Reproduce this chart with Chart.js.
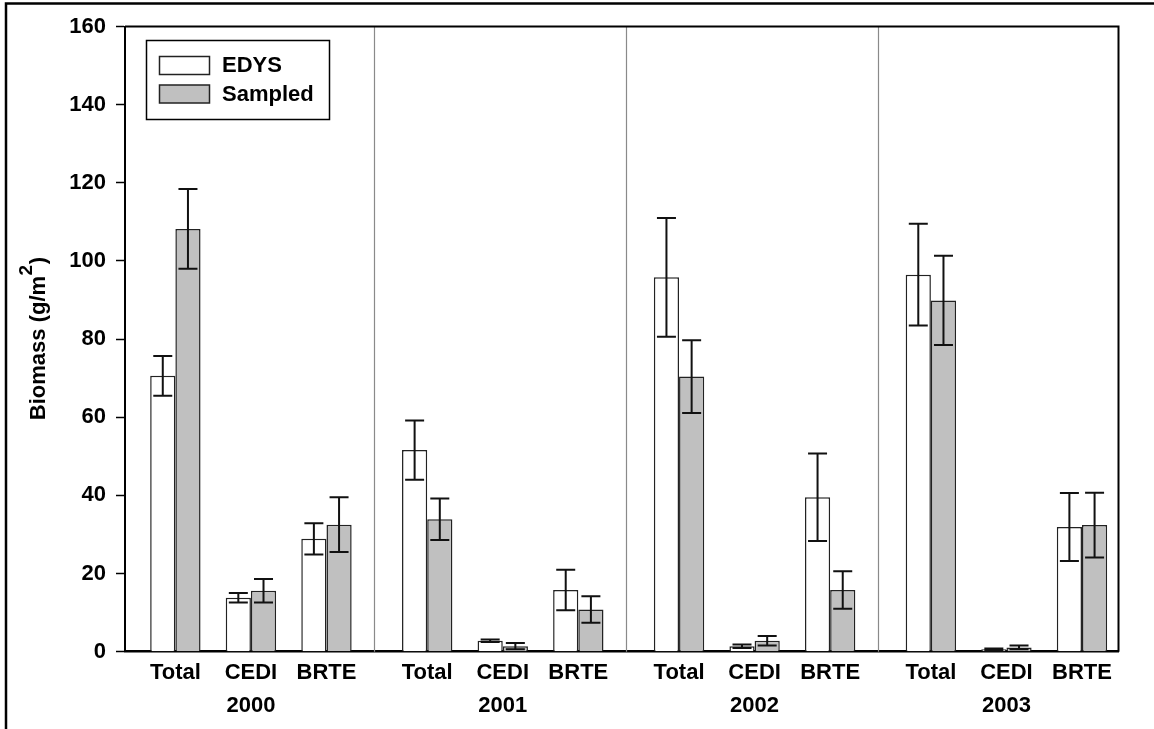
<!DOCTYPE html>
<html>
<head>
<meta charset="utf-8">
<script src="https://cdn.jsdelivr.net/npm/chart.js@4.4.1/dist/chart.umd.min.js"></script>
<style>
  html, body { margin: 0; padding: 0; background: #fff; }
  canvas { display: block; }
</style>
</head>
<body>
<canvas id="chart" width="1154" height="729"></canvas>
<script>
// Biomass by component and year: model output (EDYS) vs. field samples
const years = ['2000', '2001', '2002', '2003'];
const components = ['Total', 'CEDI', 'BRTE'];

const edysMean    = [70.6, 13.8, 28.9,  51.6, 2.8, 15.8,  95.8, 1.4, 39.5,  96.5, 0.6, 31.9];
const edysErr     = [ 5.1,  1.2,  4.0,   7.6, 0.3,  5.2,  15.2, 0.45, 11.2, 13.0, 0.25, 8.7];
const sampledMean = [108.2, 15.6, 32.5, 33.9, 1.4, 10.8,  70.4, 2.8, 15.8,  89.9, 1.1, 32.4];
const sampledErr  = [10.2,  3.0,  7.0,   5.3, 0.8,  3.4,   9.3, 1.2,  4.8,  11.4, 0.5,  8.3];

const yTicks = { min: 0, max: 160, step: 20 };

const FONT = "'Liberation Sans', Arial, Helvetica, sans-serif";

// Slot layout on a numeric x axis: components 3 units apart, years 10 units apart
const COMP_STEP = 3, YEAR_STEP = 10;
const slotOf = i => Math.floor(i / components.length) * YEAR_STEP + (i % components.length) * COMP_STEP;
const slots = edysMean.map((_, i) => slotOf(i));
const asPoints = vals => vals.map((v, i) => ({ x: slotOf(i), y: v }));

// Outer frame, plot box and year separators
const framePlugin = {
  id: 'frame',
  beforeDatasetsDraw(chart) {
    const { ctx, chartArea: a, scales: { x } } = chart;
    ctx.save();
    // year separators between the last bar of one year and the first of the next
    ctx.strokeStyle = '#8a8a8a';
    ctx.lineWidth = 1.2;
    for (let g = 1; g < years.length; g++) {
      const prev = slotOf(g * components.length - 1), next = slotOf(g * components.length);
      const px = Math.round(x.getPixelForValue((prev + next) / 2 - 0.1)) + 0.5;
      ctx.beginPath();
      ctx.moveTo(px, a.top);
      ctx.lineTo(px, a.bottom);
      ctx.stroke();
    }
    ctx.restore();
  },
  afterDraw(chart) {
    const { ctx, chartArea: a, width, height } = chart;
    ctx.save();
    ctx.strokeStyle = '#000';
    ctx.lineWidth = 2;
    ctx.beginPath();
    ctx.moveTo(a.left, a.top);
    ctx.lineTo(a.right, a.top);
    ctx.lineTo(a.right, a.bottom);
    ctx.stroke();
    // page frame
    ctx.lineWidth = 2.5;
    ctx.beginPath();
    ctx.moveTo(6, height);
    ctx.lineTo(6, 3.5);
    ctx.lineTo(width, 3.5);
    ctx.stroke();
    ctx.restore();
  }
};

// Standard-error whiskers on every bar
const errorBarPlugin = {
  id: 'errorBars',
  afterDatasetsDraw(chart) {
    const { ctx, scales: { y } } = chart;
    const cap = 9.5;
    ctx.save();
    ctx.strokeStyle = '#111';
    ctx.lineWidth = 2;
    chart.data.datasets.forEach((ds, d) => {
      const meta = chart.getDatasetMeta(d);
      meta.data.forEach((bar, i) => {
        const m = ds.data[i].y, e = ds.errors[i];
        const yHi = y.getPixelForValue(m + e);
        const yLo = y.getPixelForValue(Math.max(0, m - e));
        const cx = bar.x;
        ctx.beginPath();
        ctx.moveTo(cx, yHi); ctx.lineTo(cx, yLo);
        ctx.moveTo(cx - cap, yHi); ctx.lineTo(cx + cap, yHi);
        ctx.moveTo(cx - cap, yLo); ctx.lineTo(cx + cap, yLo);
        ctx.stroke();
      });
    });
    ctx.restore();
  }
};

// Boxed legend in the upper-left corner of the plot
const boxLegendPlugin = {
  id: 'boxLegend',
  afterDraw(chart) {
    const { ctx } = chart;
    ctx.save();
    ctx.strokeStyle = '#000';
    ctx.lineWidth = 1.5;
    ctx.strokeRect(146.5, 40.5, 183, 79);
    ctx.font = `bold 22px ${FONT}`;
    ctx.textBaseline = 'middle';
    ctx.textAlign = 'left';
    chart.data.datasets.forEach((ds, d) => {
      const top = 56 + d * 28.5;
      ctx.fillStyle = ds.backgroundColor;
      ctx.fillRect(159.5, top + 0.5, 50, 18);
      ctx.lineWidth = 1.5;
      ctx.strokeStyle = '#222';
      ctx.strokeRect(159.5, top + 0.5, 50, 18);
      ctx.fillStyle = '#000';
      ctx.fillText(ds.label, 222, top + 10);
    });
    ctx.restore();
  }
};

// Rotated y-axis title with a raised exponent
const yTitlePlugin = {
  id: 'yTitle',
  afterDraw(chart) {
    const { ctx, chartArea: a } = chart;
    const main = 'Biomass (g/m', sup = '2', tail = ')';
    const mainFont = `bold 22px ${FONT}`, supFont = `bold 19px ${FONT}`;
    ctx.save();
    ctx.font = mainFont;
    const wMain = ctx.measureText(main).width, wTail = ctx.measureText(tail).width;
    ctx.font = supFont;
    const wSup = ctx.measureText(sup).width;
    const total = wMain + wSup + wTail;
    ctx.translate(45, (a.top + a.bottom) / 2);
    ctx.rotate(-Math.PI / 2);
    ctx.fillStyle = '#000';
    ctx.textBaseline = 'alphabetic';
    ctx.textAlign = 'left';
    let x0 = -total / 2;
    ctx.font = mainFont;
    ctx.fillText(main, x0, 0);
    x0 += wMain + 0.5;
    ctx.font = supFont;
    ctx.fillText(sup, x0, -13);
    x0 += wSup + 0.5;
    ctx.font = mainFont;
    ctx.fillText(tail, x0, 0);
    ctx.restore();
  }
};

const tickFont = { family: FONT, size: 22, weight: 'bold', lineHeight: 1.5 };

new Chart(document.getElementById('chart'), {
  type: 'bar',
  data: {
    datasets: [
      {
        label: 'EDYS',
        data: asPoints(edysMean),
        errors: edysErr,
        backgroundColor: '#ffffff',
        borderColor: '#222222',
        borderWidth: 1.5
      },
      {
        label: 'Sampled',
        data: asPoints(sampledMean),
        errors: sampledErr,
        backgroundColor: '#c0c0c0',
        borderColor: '#222222',
        borderWidth: 1.5
      }
    ]
  },
  options: {
    responsive: false,
    animation: false,
    devicePixelRatio: 1,
    layout: { padding: { left: 0, right: 35.5, top: 23.3, bottom: 0 } },
    datasets: { bar: { categoryPercentage: 2 / 3, barPercentage: 1, grouped: true } },
    plugins: {
      legend: { display: false },
      tooltip: { enabled: false }
    },
    scales: {
      x: {
        type: 'linear',
        min: -2,
        max: 37.45,
        offset: false,
        grid: { display: false },
        border: { display: true, color: '#000', width: 2.5 },
        afterBuildTicks: s => { s.ticks = slots.map(v => ({ value: v })); },
        afterFit: s => { s.height = 77.3; },
        ticks: {
          autoSkip: false,
          maxRotation: 0,
          minRotation: 0,
          padding: -3,
          color: '#000',
          font: tickFont,
          callback: (value) => {
            const i = slots.indexOf(value);
            if (i < 0) return '';
            const c = i % components.length;
            const g = Math.floor(i / components.length);
            return c === 1 ? [components[c], years[g]] : components[c];
          }
        }
      },
      y: {
        min: yTicks.min,
        max: yTicks.max,
        afterFit: s => { s.width = 125; },
        grid: {
          drawOnChartArea: false,
          drawTicks: true,
          tickLength: 9,
          tickColor: '#000',
          tickWidth: 1.5
        },
        border: { display: true, color: '#000', width: 2 },
        ticks: {
          stepSize: yTicks.step,
          padding: 10,
          color: '#000',
          font: tickFont
        }
      }
    }
  },
  plugins: [framePlugin, errorBarPlugin, boxLegendPlugin, yTitlePlugin]
});
</script>
</body>
</html>
